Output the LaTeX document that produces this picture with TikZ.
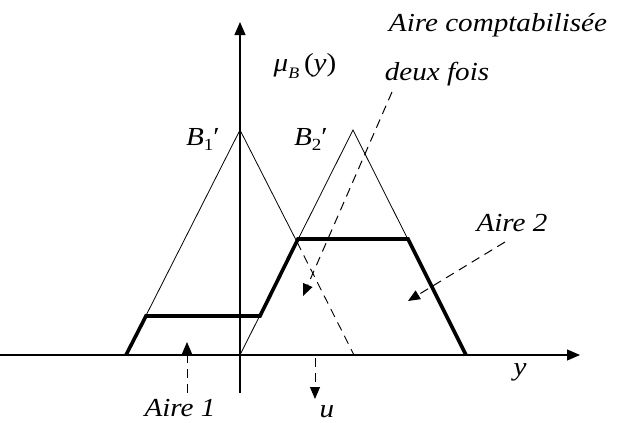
\documentclass[tikz,border=0pt]{standalone}
\usepackage{fontspec}
\setmainfont{Liberation Serif}
\usetikzlibrary{arrows.meta}
\newcommand\widetext[1]{\scalebox{1.12}[1]{#1}}
\begin{document}
\begin{tikzpicture}[x=1pt,y=-1pt,
  thinline/.style={line width=0.8pt},
  axisline/.style={line width=1.1pt,-{Triangle[length=13pt,width=11pt]}},
  thickline/.style={line width=3.6pt,line join=miter},
  dashline/.style={line width=0.9pt,dash pattern=on 9pt off 6pt},
  pointer/.style={line width=1pt,dash pattern=on 9pt off 6pt,-{Triangle[length=12pt,width=10pt]}},
  lbl/.style={font=\fontsize{26}{28}\selectfont\itshape,inner sep=0pt}]
\useasboundingbox (0,0) rectangle (619,423);
% coordinates
\coordinate (xs) at (0,355);
\coordinate (xe) at (580,355);
\coordinate (ys) at (240,393);
\coordinate (ye) at (240,22);
\coordinate (b1l) at (126,355);
\coordinate (b1t) at (240,130);
\coordinate (b1r) at (354,355);
\coordinate (b2l) at (240,355);
\coordinate (b2t) at (353,130);
\coordinate (b2r) at (466,355);
\coordinate (x12) at (297,242);
\coordinate (p1) at (146,316);
\coordinate (p2) at (260,316);
\coordinate (p3) at (298,239);
\coordinate (p4) at (408,239);
% axes
\draw[axisline] (xs) -- (xe);
\draw[axisline] (ys) -- (ye);
% triangles
\draw[thinline] (b1l) -- (b1t) -- (x12);
\draw[dashline] (x12) -- (b1r);
\draw[thinline] (b2l) -- (b2t) -- (b2r);
% result outline
\draw[thickline] (b1l) -- (p1) -- (p2) -- (p3) -- (p4) -- (b2r);
% labels
\node[lbl] (mu) at (305,66) {\widetext{μ\raisebox{-7pt}{\fontsize{16}{16}\selectfont B}\,\upshape(\itshape y\upshape)}};
\node[lbl] (B1) at (203,139) {\widetext{B\raisebox{-5pt}{\fontsize{17}{17}\selectfont\upshape 1}\upshape ′}};
\node[lbl] (B2) at (311,139) {\widetext{B\raisebox{-5pt}{\fontsize{17}{17}\selectfont\upshape 2}\upshape ′}};
\node[lbl] (ylab) at (520,372) {\widetext{y}};
\node[lbl] (acomp) at (498,25) {\widetext{Aire comptabilisée}};
\node[lbl] (deux) at (437,74) {\widetext{deux fois}};
\node[lbl] (a2) at (512,223) {\widetext{Aire 2}};
\node[lbl] (a1) at (180,408) {\widetext{Aire 1}};
\node[lbl] (ulab) at (327,412) {\widetext{u}};
% pointers
\coordinate (d1s) at (392,92);
\coordinate (d1e) at (303,296);
\coordinate (d2s) at (505,242);
\coordinate (d2e) at (408,301);
\coordinate (d3s) at (187,393);
\coordinate (d3e) at (187,342);
\coordinate (d4s) at (315,358);
\coordinate (d4e) at (315,399);
\draw[pointer] (d1s) -- (d1e);
\draw[pointer] (d2s) -- (d2e);
\draw[pointer] (d3s) -- (d3e);
\draw[pointer] (d4s) -- (d4e);
\end{tikzpicture}
\end{document}
